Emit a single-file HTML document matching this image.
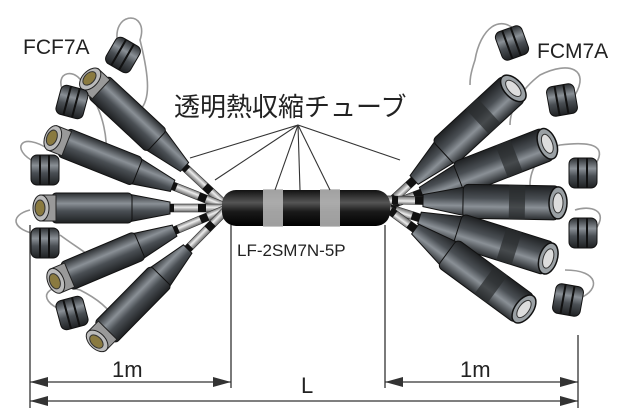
<!DOCTYPE html>
<html><head><meta charset="utf-8"><style>
html,body{margin:0;padding:0;background:#fff;}
svg{display:block}
text{font-family:"Liberation Sans","Noto Sans CJK JP",sans-serif;fill:#222}
</style></head><body>
<svg width="640" height="416" viewBox="0 0 640 416" xmlns="http://www.w3.org/2000/svg">
<defs>
<linearGradient id="bd" x1="0" y1="0" x2="0" y2="1">
<stop offset="0" stop-color="#2a2d30"/><stop offset="0.35" stop-color="#8a9096"/><stop offset="0.6" stop-color="#4a4f54"/><stop offset="1" stop-color="#1e2022"/></linearGradient>
<linearGradient id="cb" x1="0" y1="0" x2="0" y2="1">
<stop offset="0" stop-color="#777"/><stop offset="0.4" stop-color="#eee"/><stop offset="1" stop-color="#666"/></linearGradient>
<linearGradient id="hub" x1="0" y1="0" x2="0" y2="1">
<stop offset="0" stop-color="#111"/><stop offset="0.35" stop-color="#555"/><stop offset="0.6" stop-color="#1a1a1a"/><stop offset="1" stop-color="#000"/></linearGradient>
<g id="plugL">
<rect x="100" y="-4" width="92" height="8" fill="url(#cb)" stroke="#333" stroke-width="0.6"/>
<rect x="128" y="-4" width="8" height="8" fill="#111"/><rect x="160" y="-4" width="8" height="8" fill="#111"/>
<polygon points="90,-14 132,-6 132,6 90,14" fill="url(#bd)" stroke="#111"/>
<rect x="14" y="-15" width="80" height="30" rx="4" fill="url(#bd)" stroke="#111"/>
<rect x="2" y="-13" width="16" height="26" fill="#999" stroke="#222"/>
<ellipse cx="3" cy="0" rx="8" ry="13" fill="#bbb" stroke="#222"/>
<ellipse cx="2" cy="0" rx="5" ry="8" fill="#8a7a40" stroke="#333"/>
</g>
<g id="plugR">
<rect x="110" y="-4" width="70" height="8" fill="url(#cb)" stroke="#333" stroke-width="0.6"/>
<rect x="140" y="-4" width="8" height="8" fill="#111"/><rect x="165" y="-4" width="6" height="8" fill="#111"/>
<polygon points="95,-15 140,-6 140,6 95,15" fill="url(#bd)" stroke="#111"/>
<rect x="4" y="-17" width="96" height="34" rx="5" fill="url(#bd)" stroke="#111"/>
<rect x="38" y="-17" width="16" height="34" fill="#2a2c2e" opacity="0.7"/>
<ellipse cx="5" cy="0" rx="9" ry="16" fill="#9aa0a4" stroke="#111" stroke-width="1.5"/>
<ellipse cx="5" cy="0" rx="5" ry="10" fill="#ddd" stroke="#333"/>
</g>
<g id="cap">
<rect x="-14" y="-15" width="28" height="30" rx="6" fill="url(#bd)" stroke="#111"/>
<line x1="-5" y1="-15" x2="-5" y2="15" stroke="#111" stroke-width="2"/>
<line x1="4" y1="-15" x2="4" y2="15" stroke="#111" stroke-width="2"/>
</g>
</defs>
<g fill="none" stroke="#999" stroke-width="1.6">
<path d="M118,45 C110,10 150,10 140,40 C150,80 150,100 140,110"/>
<path d="M65,95 C50,70 80,65 85,90 C100,100 110,140 105,160"/>
<path d="M35,162 C10,150 20,130 50,150"/>
<path d="M40,235 C10,230 10,215 30,210 M60,235 C80,250 100,260 100,270"/>
<path d="M62,310 C35,300 45,280 80,290 C100,300 110,310 115,320"/>
<path d="M520,35 C500,10 480,30 475,60 C470,75 470,80 470,85"/>
<path d="M575,95 C590,70 570,60 540,75 C520,90 510,110 510,125"/>
<path d="M595,165 C605,150 600,140 560,145 C540,150 530,170 530,185"/>
<path d="M595,230 C610,210 590,205 575,210"/>
<path d="M580,298 C600,290 600,270 565,270"/>
</g>
<use href="#plugL" transform="translate(88,77) rotate(43)"/>
<use href="#plugL" transform="translate(50,137) rotate(21.7)"/>
<use href="#plugL" transform="translate(38,208) rotate(0)"/>
<use href="#plugL" transform="translate(53,282) rotate(-22.9)"/>
<use href="#plugL" transform="translate(95,343) rotate(-45.4)"/>
<use href="#plugR" transform="translate(517,85) rotate(137.3)"/>
<use href="#plugR" transform="translate(552,142) rotate(158.7)"/>
<use href="#plugR" transform="translate(563,203) rotate(181)"/>
<use href="#plugR" transform="translate(553,260) rotate(197.5)"/>
<use href="#plugR" transform="translate(528,312) rotate(216.3)"/>
<use href="#cap" transform="translate(123,55) rotate(30)"/>
<use href="#cap" transform="translate(72,102) rotate(15)"/>
<use href="#cap" transform="translate(45,170)"/>
<use href="#cap" transform="translate(45,243)"/>
<use href="#cap" transform="translate(72,313) rotate(-15)"/>
<use href="#cap" transform="translate(512,43) rotate(-20)"/>
<use href="#cap" transform="translate(562,100) rotate(-10)"/>
<use href="#cap" transform="translate(583,173)"/>
<use href="#cap" transform="translate(583,233)"/>
<use href="#cap" transform="translate(568,300) rotate(10)"/>
<rect x="222" y="190" width="168" height="36" rx="14" fill="url(#hub)"/>
<rect x="263" y="189" width="20" height="38" fill="#bbb" opacity="0.85"/>
<rect x="320" y="189" width="20" height="38" fill="#bbb" opacity="0.85"/>
<g stroke="#333" stroke-width="1.1">
<line x1="298" y1="125" x2="190" y2="158"/>
<line x1="298" y1="125" x2="215" y2="180"/>
<line x1="298" y1="125" x2="275" y2="190"/>
<line x1="298" y1="125" x2="300" y2="190"/>
<line x1="298" y1="125" x2="330" y2="190"/>
<line x1="298" y1="125" x2="400" y2="160"/>
</g>
<text x="174" y="116" font-size="26">透明熱収縮チューブ</text>
<text x="23" y="54" font-size="21">FCF7A</text>
<text x="537" y="58" font-size="21">FCM7A</text>
<text x="237" y="256" font-size="17">LF-2SM7N-5P</text>
<g stroke="#333" stroke-width="1.3">
<line x1="30" y1="225" x2="30" y2="408"/>
<line x1="231" y1="225" x2="231" y2="388"/>
<line x1="385" y1="225" x2="385" y2="388"/>
<line x1="578" y1="335" x2="578" y2="408"/>
<line x1="30" y1="382" x2="231" y2="382"/>
<line x1="385" y1="382" x2="578" y2="382"/>
<line x1="30" y1="401" x2="578" y2="401"/>
</g>
<g fill="#333">
<polygon points="30,382 48,377 48,387"/><polygon points="231,382 213,377 213,387"/>
<polygon points="385,382 403,377 403,387"/><polygon points="578,382 560,377 560,387"/>
<polygon points="30,401 48,396 48,406"/><polygon points="578,401 560,396 560,406"/>
</g>
<text x="112" y="377" font-size="22">1m</text>
<text x="460" y="377" font-size="22">1m</text>
<text x="301" y="393" font-size="22">L</text>
</svg>
</body></html>
